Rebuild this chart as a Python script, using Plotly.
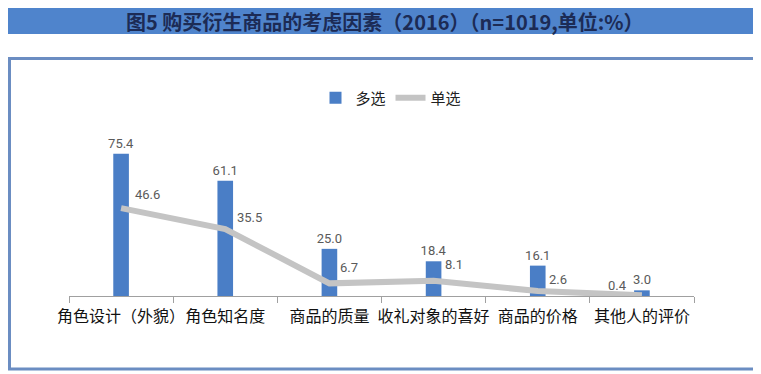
import plotly.graph_objects as go

categories = ["角色设计（外貌）", "角色知名度", "商品的质量", "收礼对象的喜好", "商品的价格", "其他人的评价"]
multi_values = [75.4, 61.1, 25.0, 18.4, 16.1, 3.0]
single_values = [46.6, 35.5, 6.7, 8.1, 2.6, 0.4]
series_names = ["多选", "单选"]
title_text = "图5 购买衍生商品的考虑因素（2016）（n=1019,单位:%）"

W, H = 761, 374
OFF = 8  # page body margin offset
# target viewport positions of the plot area
VP_LEFT, VP_RIGHT, VP_TOP, VP_BOTTOM = 69, 694, 130, 296
L = VP_LEFT - OFF
T = VP_TOP - OFF
R = W - (VP_RIGHT - OFF)
B = H - (VP_BOTTOM - OFF)
pw = VP_RIGHT - VP_LEFT
ph = VP_BOTTOM - VP_TOP

def px2x(px):
    return (px - VP_LEFT) / pw

def py2y(py):
    return (VP_BOTTOM - py) / ph

CJK = "Noto Sans CJK SC, Noto Sans, sans-serif"
NUM = "Liberation Sans Narrow, Roboto, Liberation Sans, sans-serif"
LABEL_COLOR = "#5a5a5a"

fig = go.Figure()
fig.add_trace(go.Bar(
    x=categories, y=multi_values, name=series_names[0],
    marker=dict(color="#4a7ec6", line=dict(width=0)),
    width=0.15,
    text=[f"{v:.1f}" for v in multi_values],
    textposition="outside", cliponaxis=False, constraintext="none",
    textfont=dict(family=NUM, size=13, color=LABEL_COLOR),
))
fig.add_trace(go.Scatter(
    x=categories, y=single_values, name=series_names[1],
    mode="lines",
    line=dict(color="#c4c4c4", width=6),
    cliponaxis=False,
))

annotations = [dict(
    text=f"<b>{title_text}</b>", xref="paper", yref="paper",
    x=px2x(385), y=py2y(22), xanchor="center", yanchor="middle",
    showarrow=False, font=dict(family=CJK, size=20, color="#1c2b55"),
)]
xshifts = [26, 24, 20, 20, 20, -24]
yshifts = [14, 12, 16, 16, 12, 10]
for c, v, xs, ys in zip(categories, single_values, xshifts, yshifts):
    annotations.append(dict(
        x=c, y=v, xref="x", yref="y", text=f"{v:.1f}", showarrow=False,
        xshift=xs, yshift=ys, font=dict(family=NUM, size=13, color=LABEL_COLOR),
    ))

shapes = [
    dict(type="rect", xref="paper", yref="paper",
         x0=px2x(5), x1=px2x(757), y0=py2y(34), y1=py2y(6),
         fillcolor="#4f84cc", line=dict(width=0), layer="below"),
    dict(type="rect", xref="paper", yref="paper",
         x0=px2x(OFF + 1.5), x1=px2x(754.5), y0=py2y(369), y1=py2y(58.5),
         fillcolor="rgba(0,0,0,0)", line=dict(color="#6b8dc2", width=3), layer="below"),
]

fig.update_layout(
    width=W, height=H,
    margin=dict(l=L, r=R, t=T, b=B, pad=0, autoexpand=False),
    paper_bgcolor="white", plot_bgcolor="white",
    shapes=shapes,
    annotations=annotations,
    legend=dict(orientation="h", x=px2x(391), xanchor="center",
                y=py2y(98), yanchor="middle",
                font=dict(family=CJK, size=15, color="#222222"),
                bgcolor="rgba(0,0,0,0)", traceorder="normal"),
    showlegend=True,
    bargap=0.5,
)
fig.update_xaxes(
    showline=True, linecolor="#a0a0a0", linewidth=1,
    ticks="outside", tickson="boundaries", ticklen=6, tickcolor="#a0a0a0",
    tickangle=0, automargin=False, ticklabelstandoff=6,
    tickfont=dict(family=CJK, size=16, color="#111111"),
    showgrid=False, zeroline=False, fixedrange=True,
)
fig.update_yaxes(range=[0, 88], visible=False, showgrid=False, zeroline=False)

fig.write_html("out.html")
